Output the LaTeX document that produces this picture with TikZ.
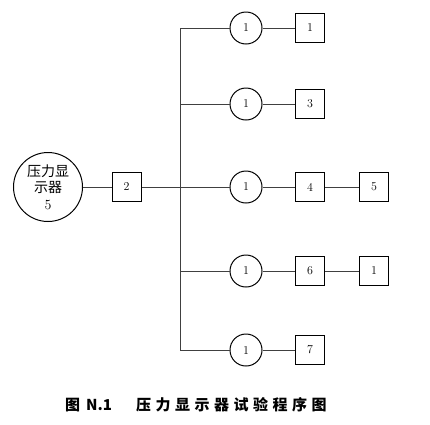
\documentclass[tikz,border=0pt]{standalone}
\usepackage{fontspec}
\newfontfamily\cjk{Noto Sans CJK SC}
\newfontfamily\cjkcap[LetterSpace=30]{Noto Sans CJK SC}
\begin{document}
\begin{tikzpicture}[x=1pt,y=-1pt,
  conn/.style={draw=black!75,line width=0.8pt},
  bigc/.style={circle,draw,line width=1pt,minimum size=69pt,inner sep=0pt,align=center,font=\fontsize{14}{16.5}\selectfont},
  smc/.style={circle,draw,line width=1pt,minimum size=32pt,inner sep=0pt,font=\fontsize{12}{14}\selectfont},
  sq/.style={rectangle,draw,line width=1pt,minimum size=29pt,inner sep=0pt,font=\fontsize{12}{14}\selectfont}]
\useasboundingbox (0,0) rectangle (430,424);
\node[bigc] (d) at (48,187) {{\cjk 压力显}\\{\cjk 示器}\\5};
\node[sq] (b2) at (126.5,187) {2};
\coordinate (vt) at (180,28);
\coordinate (vm) at (180,187);
\coordinate (vb) at (180,350);
\coordinate (v2) at (180,104);
\coordinate (v4) at (180,271);
\node[smc] (c1) at (246,28) {1};
\node[smc] (c2) at (246,104) {1};
\node[smc] (c3) at (246,187) {1};
\node[smc] (c4) at (246,271) {1};
\node[smc] (c5) at (246,350) {1};
\node[sq] (s1) at (310,28) {1};
\node[sq] (s3) at (310,104) {3};
\node[sq] (s4) at (310,187) {4};
\node[sq] (s6) at (310,271) {6};
\node[sq] (s7) at (310,350) {7};
\node[sq] (s5) at (374,187) {5};
\node[sq] (s1b) at (374,271) {1};
\draw[conn] (d) -- (b2) -- (vm);
\draw[conn] (vt) -- (vb);
\draw[conn] (vt) -- (c1) -- (s1);
\draw[conn] (v2) -- (c2) -- (s3);
\draw[conn] (vm) -- (c3) -- (s4) -- (s5);
\draw[conn] (v4) -- (c4) -- (s6) -- (s1b);
\draw[conn] (vb) -- (c5) -- (s7);
\node[anchor=west,inner sep=0pt,font=\bfseries\fontsize{15}{17}\selectfont] (cap) at (65,405) {{\cjk 图}\hspace{0.4em}{\cjk N.1}\hspace{1.6em}{\cjkcap 压力显示器试验程序图}};
\end{tikzpicture}
\end{document}
